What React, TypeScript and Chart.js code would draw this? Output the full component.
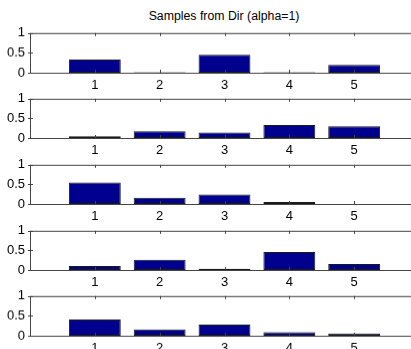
import React, { useEffect, useRef } from 'react';
import { Chart, registerables } from 'chart.js';
Chart.register(...registerables);

const chartTitle = 'Samples from Dir (alpha=1)';
const categories = ['1', '2', '3', '4', '5'];
const sample1 = [0.33, 0.01, 0.45, 0.01, 0.2];
const sample2 = [0.045, 0.17, 0.14, 0.33, 0.3];
const sample3 = [0.55, 0.16, 0.24, 0.05, 0.003];
const sample4 = [0.1, 0.26, 0.03, 0.46, 0.15];
const sample5 = [0.41, 0.16, 0.28, 0.09, 0.055];
const samples = [sample1, sample2, sample3, sample4, sample5];
const yTickValues = [0, 0.5, 1];
const yTickLabels = ['0', '0.5', '1'];

const FONT = '"Liberation Sans", Arial, Helvetica, sans-serif';
const AXIS_COLOR = '#444444';
const BAR_COLOR = '#00008E';

const PAD_TOP = 9;
const AX_H = 43.4;
const X_AXIS_H = 20;
const CANVAS_H = PAD_TOP + AX_H + X_AXIS_H;
const CANVAS_W = 420;
const Y_AXIS_W = 30;

const framePlugin = {
  id: 'matlabFrame',
  afterDatasetsDraw(chart: any) {
    const { ctx, chartArea } = chart;
    const xs = chart.scales.x;
    const ys = chart.scales.y;
    const { left, right, top, bottom } = chartArea;
    ctx.save();
    ctx.strokeStyle = AXIS_COLOR;
    ctx.lineWidth = 1;
    ctx.beginPath();
    ctx.moveTo(left + 0.5, top + 0.5);
    ctx.lineTo(right, top + 0.5);
    ctx.moveTo(left + 0.5, top);
    ctx.lineTo(left + 0.5, bottom + 0.5);
    ctx.lineTo(right, bottom + 0.5);
    categories.forEach((_, i) => {
      const px = Math.round(xs.getPixelForValue(i + 1)) + 0.5;
      ctx.moveTo(px, top);
      ctx.lineTo(px, top + 3);
      ctx.moveTo(px, bottom);
      ctx.lineTo(px, bottom - 3);
    });
    yTickValues.forEach((v) => {
      const py = Math.round(ys.getPixelForValue(v)) + 0.5;
      ctx.moveTo(left - 2, py);
      ctx.lineTo(left + 3, py);
    });
    ctx.stroke();
    ctx.restore();
  },
};

function SubPlot({ values, top }: { values: number[]; top: number }) {
  const ref = useRef<HTMLCanvasElement | null>(null);
  useEffect(() => {
    if (!ref.current) return;
    const chart = new Chart(ref.current, {
      type: 'bar',
      data: {
        datasets: [
          {
            data: values.map((v, i) => ({ x: i + 1, y: v })),
            backgroundColor: BAR_COLOR,
            borderColor: '#1a1a1a',
            borderWidth: 1,
            borderSkipped: false,
            barPercentage: 1,
            categoryPercentage: 0.8,
          },
        ],
      },
      options: {
        responsive: false,
        animation: false,
        devicePixelRatio: 1,
        layout: { padding: { top: PAD_TOP, left: 0, right: 1, bottom: 0 } },
        plugins: { legend: { display: false }, tooltip: { enabled: false }, title: { display: false } },
        scales: {
          x: {
            type: 'linear',
            offset: false,
            min: 0,
            max: categories.length + 1,
            grid: { display: false, drawTicks: false, offset: false },
            border: { display: false },
            afterBuildTicks: (s: any) => {
              s.ticks = categories.map((_, i) => ({ value: i + 1 }));
            },
            afterFit: (s: any) => {
              s.height = X_AXIS_H;
            },
            ticks: {
              autoSkip: false,
              maxRotation: 0,
              padding: 4.5,
              color: '#000',
              font: { family: FONT, size: 13 },
              callback: (v: any) => categories[Number(v) - 1] ?? '',
            },
          },
          y: {
            type: 'linear',
            min: 0,
            max: 1,
            grid: { display: false, drawTicks: false },
            border: { display: false },
            afterBuildTicks: (s: any) => {
              s.ticks = yTickValues.map((v) => ({ value: v }));
            },
            afterFit: (s: any) => {
              s.width = Y_AXIS_W;
            },
            ticks: {
              padding: 5,
              color: '#000',
              font: { family: FONT, size: 13 },
              callback: (v: any) => yTickLabels[yTickValues.indexOf(Number(v))] ?? '',
            },
          },
        },
      },
      plugins: [framePlugin],
    } as any);
    return () => chart.destroy();
  }, [values]);
  return (
    <canvas
      ref={ref}
      width={CANVAS_W}
      height={CANVAS_H}
      style={{ position: 'absolute', left: 0, top: top - PAD_TOP, width: CANVAS_W, height: CANVAS_H }}
    />
  );
}

export default function App() {
  const tops = samples.map((_, i) => 29.3 + i * 65.75);
  return (
    <div
      style={{
        position: 'fixed',
        left: 0,
        top: 0,
        width: 411,
        height: 349,
        overflow: 'hidden',
        background: '#fff',
      }}
    >
      <div
        style={{
          position: 'absolute',
          left: 0,
          top: 9,
          width: 448,
          textAlign: 'center',
          fontFamily: FONT,
          fontSize: 12.3,
          lineHeight: '15px',
          color: '#000',
        }}
      >
        {chartTitle}
      </div>
      {samples.map((s, i) => (
        <SubPlot key={i} values={s} top={tops[i]} />
      ))}
    </div>
  );
}
